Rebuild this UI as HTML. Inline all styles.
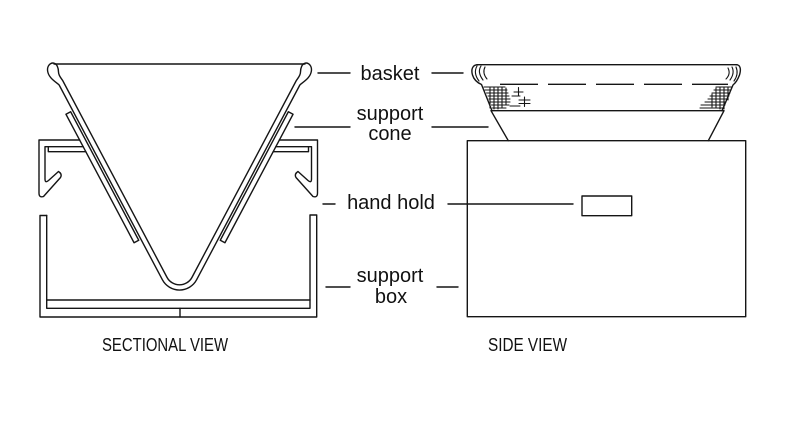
<!DOCTYPE html>
<html><head><meta charset="utf-8"><style>
html,body{margin:0;padding:0;background:#fff;}
svg{display:block;}
text{font-family:"Liberation Sans",Arial,sans-serif;fill:#111;}
</style></head><body>
<svg width="800" height="423" viewBox="0 0 800 423" xmlns="http://www.w3.org/2000/svg">
<g fill="none" stroke="#151515" stroke-width="1.4" stroke-linejoin="round" stroke-linecap="round">
<!-- ===== SECTIONAL VIEW ===== -->
<!-- basket top line -->
<path d="M54,64 H305"/>
<!-- basket band with bulbs -->
<path d="M59.15,85 L162.36,279.7 A19.4,19.4 0 0 0 196.64,279.7 L299.85,85
C303,82 311,78 311.5,70 C311.5,64 307,62.5 305,63.2 C302,64 300.5,68 300.5,72 C300.5,76 297,79 296.07,81
L192.05,277.25 A14.2,14.2 0 0 1 166.95,277.25 L62.93,81
C62,79 58.5,76 58.5,72 C58.5,68 57,64 54,63.2 C52,62.5 47.5,64 47.5,70 C48,78 56,82 59.15,85 Z"/>
<!-- support cone strips -->
<path d="M65.96,114.24 L70.64,111.76 L138.74,240.26 L134.06,242.74 Z"/>
<path d="M293.04,114.24 L288.36,111.76 L220.26,240.26 L224.94,242.74 Z"/>
<!-- left bracket -->
<path d="M79.6,140 H39 V193 Q39,198 43.5,196.5 L60.5,177.5 Q62.5,174 58.5,171.5 L48.5,180.5 Q45,183.5 45,179 V146.7 H83.1"/>
<path d="M48.3,146.7 V151.7 H85.8"/>
<!-- right bracket -->
<path d="M279.4,140 H317.5 V193 Q317.5,198 313,196.5 L296,177.5 Q294,174 298,171.5 L308,180.5 Q311.5,183.5 311.5,179 V146.7 H275.9"/>
<path d="M308.5,146.7 V151.7 H273.2"/>
<!-- lower support box -->
<path d="M46.7,215.5 H40 V317 H316.7 V215 H310 V300"/>
<path d="M46.7,215.5 V300"/>
<path d="M46.7,300 H310 M46.7,308.3 H310 M46.7,300 V308.3 M310,300 V308.3"/>
<path d="M180,308.3 V317"/>

<!-- ===== LEADER LINES ===== -->
<path d="M318,73 H350 M432,73 H463"/>
<path d="M295,127 H350 M432,127 H488"/>
<path d="M323,204 H335 M448,204 H573"/>
<path d="M326,287 H350 M437,287 H458"/>

<!-- ===== SIDE VIEW ===== -->
<rect x="467.3" y="140.7" width="278.4" height="176"/>
<rect x="582" y="196" width="49.7" height="19.7"/>
<path d="M491,110.7 H724 L708.3,140.7 M491,110.7 L508.3,140.7"/>
<!-- basket -->
<path d="M477,64.7 H737"/>
<path d="M478,64.7 C472,64.7 471,70 472.5,75 C474,80 478,83 481.5,84.5 L492,110.7"/>
<path d="M736,64.7 C741,64.7 741,70 739.5,75 C738,79 735.5,83 733,85 L722,110.7"/>
<path d="M500,84.3 H728" stroke-dasharray="38 10" stroke-linecap="butt"/>
<!-- rim strokes -->
<path d="M477,66 Q473,73 479,81 M481,66 Q477,72 483,80 M485,67 Q482,73 487,79" stroke-width="1.1"/>
<path d="M736,67 Q739,74 734,81 M732,67 Q735,73 730,80 M728,68 Q731,74 726,79" stroke-width="1.1"/>
<!-- left hatch -->
<g stroke-width="1.1">
<path d="M484,87 H505 M485,90 H507 M486.5,93 H508 M488,96 H509 M489,99 H510 M490.5,102 H510 M491.5,105 H509 M492.5,108 H506"/>
<path d="M490,87 V108 M494,87 V109 M498,87 V109 M502,87 V108 M506,88 V105"/>
<path d="M514,92 H523 M518.5,87.5 V96 M512,96 H520"/>
<path d="M519,100 H530 M519,103.5 H530 M524.5,97 V106.5 M510,106 H520"/>
</g>
<!-- right hatch -->
<g stroke-width="1.1">
<path d="M716,87 H732 M714,90 H731 M712,93 H730 M710,96 H729 M708,99 H727.5 M705,102 H726 M701,105 H725 M700,108 H723.5"/>
<path d="M716,88 V108 M720,87 V109 M724,87 V109 M728,87 V100 M712,94 V107"/>
</g>
</g>

<!-- ===== LABELS ===== -->
<g font-size="20" text-anchor="middle">
<text x="390" y="80">basket</text>
<text x="390" y="120">support</text>
<text x="390" y="140">cone</text>
<text x="391" y="209">hand hold</text>
<text x="390" y="282">support</text>
<text x="391" y="303">box</text>
</g>
<text x="102" y="351" font-size="18" textLength="126" lengthAdjust="spacingAndGlyphs">SECTIONAL VIEW</text>
<text x="488" y="351" font-size="18" textLength="79" lengthAdjust="spacingAndGlyphs">SIDE VIEW</text>
</svg>
</body></html>
